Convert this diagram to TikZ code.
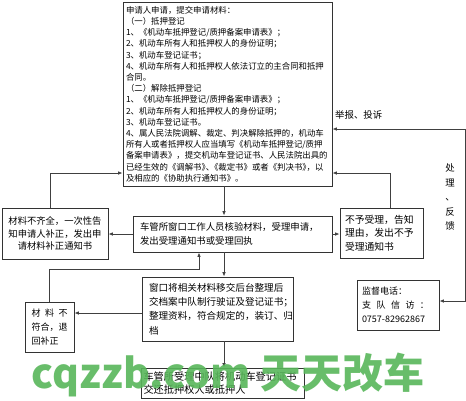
\documentclass[tikz,border=0pt]{standalone}
\usepackage{fontspec}
\setmainfont{Noto Sans CJK SC}
\usepackage{tikz}
\usetikzlibrary{arrows.meta}
\definecolor{wmgreen}{RGB}{88,182,90}

\begin{document}
\begin{tikzpicture}[x=1pt,y=-1pt,
  main_box/.style={draw=black!80,line width=0.9pt,inner sep=0pt,align=left},
  arr/.style={draw=black!75,line width=0.8pt,-{Latex[length=4.5pt,width=3.6pt]}},
  arr_two/.style={draw=black!75,line width=0.8pt,{Latex[length=4.5pt,width=3.6pt]}-{Latex[length=4.5pt,width=3.6pt]}}]
\useasboundingbox (0,0) rectangle (466,400);
	\node[main_box,minimum width=209,minimum height=184,text width=203,
	  font=\fontsize{8.4}{11.2}\selectfont] (1) at (227.5,94) {申请人申请，提交申请材料：\\
	  （一）抵押登记\\
	  1、《机动车抵押登记/质押备案申请表》；\\
	  2、机动车所有人和抵押权人的身份证明；\\
	  3、机动车登记证书；\\
	  4、机动车所有人和抵押权人依法订立的主合同和抵押\\
	  合同。\\
	  （二）解除抵押登记\\
	  1、《机动车抵押登记/质押备案申请表》；\\
	  2、机动车所有人和抵押权人的身份证明；\\
	  3、机动车登记证书。\\
	  4、属人民法院调解、裁定、判决解除抵押的，机动车\\
	  所有人或者抵押权人应当填写《机动车抵押登记/质押\\
	  备案申请表》，提交机动车登记证书、人民法院出具的\\
	  已经生效的《调解书》\kern-.5em、\kern-.5em《裁定书》或者《判决书》\kern-.5em，以\\
	  及相应的《协助执行通知书》。};
    \node[main_box,minimum width=199,minimum height=36,text width=185,
      font=\fontsize{9.4}{14}\selectfont] (2) at (232.5,234) {车管所窗口工作人员核验材料，受理申请，\\发出受理通知书或受理回执};
    \node[main_box,align=center,minimum width=106,minimum height=51,text width=100,
      font=\fontsize{9.3}{12.5}\selectfont] (3) at (55,233.5) {材料不齐全，一次性告\\知申请人补正，发出申\\请材料补正通知书};
    \node[main_box,minimum width=83,minimum height=50,text width=73,
      font=\fontsize{9.8}{13.5}\selectfont] (4) at (381.5,233) {不予受理，告知\\理由，发出不予\\受理通知书};
    \node[main_box,minimum width=151,minimum height=64,text width=137,
      font=\fontsize{9.6}{14.3}\selectfont] (5) at (217.5,309) {窗口将相关材料移交后台整理后\\交档案中队制行驶证及登记证书；\\整理资料，符合规定的，装订、归\\档};
    \node[main_box,minimum width=49,minimum height=50,text width=36,
      font=\fontsize{9}{14}\selectfont] (6) at (49.5,327) {\makebox[\linewidth][s]{材\hfil 料\hfil 不}\\符合，退\\回补正};
    \node[main_box,minimum width=163,minimum height=30,text width=158,
      font=\fontsize{10.2}{13}\selectfont] (7) at (222.5,383) {车管所受理中队将机动车登记证书\\交还抵押权人或抵押人};
    \node[main_box,minimum width=82,minimum height=50,text width=72,
      font=\fontsize{9}{14}\selectfont] (8) at (398,305) {监督电话：\\\makebox[67pt][s]{支\hfil 队\hfil 信\hfil 访\hfil ：}\\0757-82962867};
    \node[anchor=west,inner sep=0pt,font=\fontsize{9.4}{11}\selectfont] (9) at (335,115) {举报、投诉};
    \node[align=center,inner sep=0pt,font=\fontsize{9.4}{14.5}\selectfont] (10) at (450,197) {处\\理\\、\\反\\馈};
\coordinate (axis) at (224,0);
\coordinate (k1) at (50,173);
\coordinate (k2) at (390,173);
\coordinate (k3) at (199,269);
\coordinate (k4) at (0,313);
\coordinate (k5) at (465,129);
\coordinate (k6) at (465,301);
\draw[arr] (1.south -| axis) -- (2.north -| axis);
\draw[arr] (2.south -| axis) -- (5.north -| axis);
\draw[arr] (5.south -| axis) -- (7.north -| axis);
\draw[arr] (2.west) -- (2.west -| 3.east);
\draw[arr] (2.east) -- (2.east -| 4.west);
\draw[arr] (3.north -| k1) -- (k1) -- (k1 -| 1.west);
\draw[arr] (4.north -| k2) -- (k2) -- (k2 -| 1.east);
\draw[arr] (6.north) |- (k3) -- (k3 |- 2.south);
\draw[arr] (5.west |- k4) -- (6.east |- k4);
\draw[arr_two] (k5 -| 1.east) -- (k5) -- (k6) -- (k6 -| 8.east);
    \node[inner sep=0pt,text=wmgreen,text opacity=0.9,
      font=\bfseries\fontsize{41}{41}\selectfont] (11) at (228,375) {cqzzb.com 天天改车};
\end{tikzpicture}
\end{document}
